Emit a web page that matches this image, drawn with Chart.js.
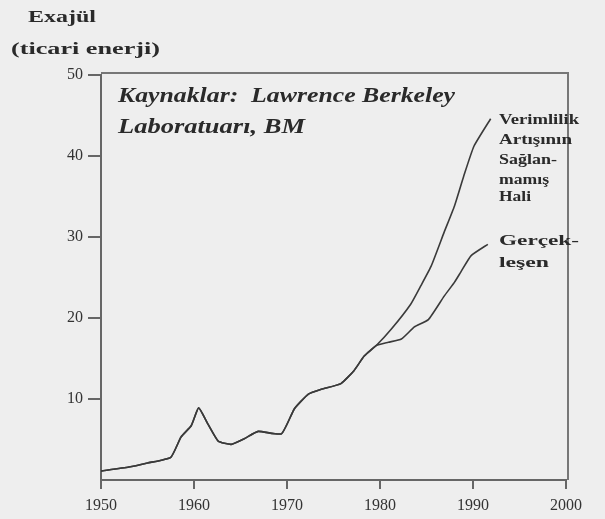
<!DOCTYPE html>
<html>
<head>
<meta charset="utf-8">
<script src="https://cdn.jsdelivr.net/npm/chart.js@4.4.1/dist/chart.umd.min.js"></script>
<style>
  html, body { margin: 0; padding: 0; background: #eeeeee; }
  #wrap { width: 605px; height: 519px; position: relative; }
</style>
</head>
<body>
<div id="wrap"><canvas id="c" width="605" height="519"></canvas></div>
<script>
// ---- Data ----
const sharedYears  = [1950, 1953, 1955, 1957.5, 1958.6, 1959.7, 1960.5, 1961.5, 1962.6, 1964, 1965.4, 1966.9, 1969.4, 1970.8, 1972.3, 1973.7, 1975.8, 1977.2, 1978.3, 1979.6];
const sharedValues = [1.1, 1.6, 2.1, 2.8, 5.3, 6.7, 8.9, 6.9, 4.8, 4.4, 5.1, 6.0, 5.7, 8.8, 10.6, 11.2, 11.9, 13.5, 15.3, 16.6];

const noEfficiencyYears  = [1981.2, 1983.3, 1984.4, 1985.5, 1986.9, 1988, 1989, 1990.1, 1991.9];
const noEfficiencyValues = [18.6, 21.7, 24.0, 26.4, 30.6, 33.8, 37.5, 41.2, 44.6];

const actualYears  = [1980.9, 1982.3, 1983.7, 1985.2, 1986.9, 1988, 1988.7, 1989.8, 1991.6];
const actualValues = [17.0, 17.4, 18.9, 19.8, 22.7, 24.4, 25.7, 27.7, 29.1];

const xTickYears = [1950, 1960, 1970, 1980, 1990, 2000];
const yTickValues = [10, 20, 30, 40, 50];

const titleLines = ["Exajül", "(ticari enerji)"];
const sourceLines = ["Kaynaklar:  Lawrence Berkeley", "Laboratuarı, BM"];
const noEffLabel = ["Verimlilik", "Artışının", "Sağlan-", "mamış", "Hali"];
const actualLabel = ["Gerçek-", "leşen"];

function toPoints(xs, ys) { return xs.map((x, i) => ({ x: x, y: ys[i] })); }

const SERIF = '"Liberation Serif", "DejaVu Serif", serif';

function stretchText(ctx, text, x, y, width, font) {
  ctx.save();
  ctx.font = font;
  const w = ctx.measureText(text).width;
  ctx.translate(x, y);
  ctx.scale(width / w, 1);
  ctx.fillText(text, 0, 0);
  ctx.restore();
}

const decor = {
  id: 'decor',
  beforeDraw(chart) {
    const ctx = chart.ctx;
    ctx.save();
    ctx.fillStyle = '#eeeeee';
    ctx.fillRect(0, 0, chart.width, chart.height);
    ctx.restore();
  },
  afterDraw(chart) {
    const ctx = chart.ctx;
    const a = chart.chartArea;
    ctx.save();
    // frame (top & right)
    ctx.strokeStyle = '#777777';
    ctx.lineWidth = 2;
    ctx.beginPath();
    ctx.moveTo(a.left, a.top - 2);
    ctx.lineTo(a.right + 2, a.top - 2);
    ctx.lineTo(a.right + 2, a.bottom);
    ctx.stroke();

    ctx.fillStyle = '#2a2a2a';
    ctx.textBaseline = 'alphabetic';
    // axis title
    stretchText(ctx, titleLines[0], 28, 22, 68, 'bold 17px ' + SERIF);
    stretchText(ctx, titleLines[1], 11, 54, 149, 'bold 17px ' + SERIF);
    // source note
    stretchText(ctx, sourceLines[0], 118, 102, 337, 'italic bold 20px ' + SERIF);
    stretchText(ctx, sourceLines[1], 118, 133, 187, 'italic bold 20px ' + SERIF);
    // series labels
    const bl1 = [124, 144, 164, 184, 201];
    const w1 = [80, 73, 58, 50, 32];
    noEffLabel.forEach((t, i) => stretchText(ctx, t, 499, bl1[i], w1[i], 'bold 14px ' + SERIF));
    const bl2 = [245, 267];
    const w2 = [80, 50];
    actualLabel.forEach((t, i) => stretchText(ctx, t, 499, bl2[i], w2[i], 'bold 14px ' + SERIF));
    ctx.restore();
  }
};

new Chart(document.getElementById('c'), {
  type: 'line',
  data: {
    datasets: [
      {
        label: noEffLabel.join(' '),
        data: toPoints(sharedYears.concat(noEfficiencyYears), sharedValues.concat(noEfficiencyValues)),
        borderColor: '#3a3a3a', borderWidth: 1.6, pointRadius: 0, tension: 0.15, fill: false
      },
      {
        label: actualLabel.join(''),
        data: toPoints(sharedYears.concat(actualYears), sharedValues.concat(actualValues)),
        borderColor: '#3a3a3a', borderWidth: 1.6, pointRadius: 0, tension: 0.15, fill: false
      }
    ]
  },
  options: {
    responsive: false,
    animation: false,
    layout: { padding: { left: 0, top: 75, right: 39, bottom: 0 } },
    plugins: { legend: { display: false }, tooltip: { enabled: false } },
    scales: {
      x: {
        type: 'linear', min: 1950, max: 2000,
        afterFit(s) { s.height = 39; },
        afterBuildTicks(s) { s.ticks = xTickYears.map(v => ({ value: v })); },
        ticks: {
          callback: v => String(v),
          color: '#333', padding: 7, maxRotation: 0,
          font: { family: SERIF, size: 16 }
        },
        grid: { drawOnChartArea: false, drawTicks: true, tickLength: 9, color: '#666', lineWidth: 2 },
        border: { display: true, color: '#666', width: 2 }
      },
      y: {
        type: 'linear', min: 0, max: 50,
        afterFit(s) { s.width = 101; },
        afterBuildTicks(s) { s.ticks = yTickValues.map(v => ({ value: v })); },
        ticks: {
          callback: v => String(v),
          color: '#333', padding: 5,
          font: { family: SERIF, size: 16 }
        },
        grid: { drawOnChartArea: false, drawTicks: true, tickLength: 13, color: '#666', lineWidth: 2 },
        border: { display: true, color: '#666', width: 2 }
      }
    }
  },
  plugins: [decor]
});
</script>
</body>
</html>
